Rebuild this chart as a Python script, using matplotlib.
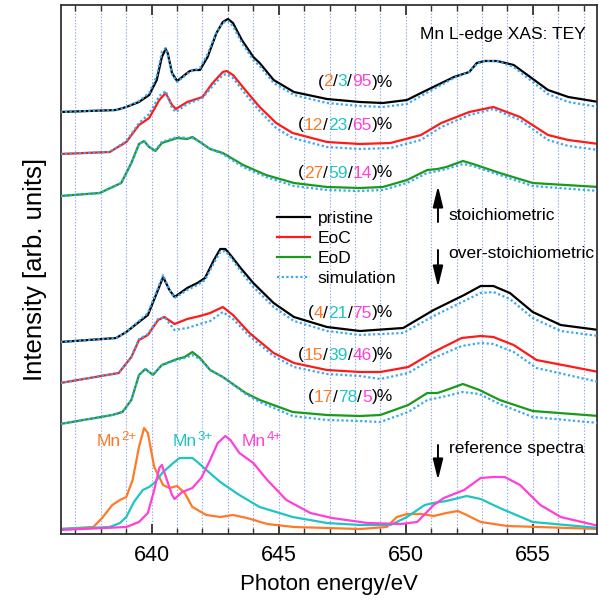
import matplotlib
matplotlib.use("Agg")
import matplotlib.pyplot as plt
import numpy as np
from matplotlib.lines import Line2D

plt.rcParams['font.family'] = ['Liberation Sans', 'DejaVu Sans']

# ---------------- data (arb. units, relative to each curve's own baseline) ----------------
# upper group (stoichiometric)
pr1_E = [636.4, 638.6, 639.0, 639.5, 639.9, 640.2, 640.4, 640.55, 640.63, 640.8, 641.0, 641.2, 641.5, 641.7, 641.9,
         642.2, 642.55, 642.8, 643.0, 643.2, 643.55, 644.0, 644.25, 644.8, 645.6, 646.9, 648.2, 649.1, 650.05, 650.6,
         651.25, 651.9, 652.5, 652.8, 653.1, 653.6, 654.25, 654.9, 655.6, 656.4, 657.6]
pr1_I = [0, 2, 5, 10, 17, 32, 55, 63, 59, 39, 31, 35, 41, 42, 42,
         55, 79, 90, 93, 89, 72, 55, 49, 32, 20, 13, 10, 9, 12, 19,
         27, 35, 40, 49, 51, 51, 47, 35, 22, 15, 10]
pr1_S = [0, 2, 5, 11, 19, 36, 60, 64, 57, 38, 30, 34, 40, 42, 44,
         58, 80, 89, 91, 86, 69, 52, 46, 29, 17, 9, 6, 5, 8, 16,
         25, 34, 40, 48, 51, 51, 45, 32, 18, 10, 5]

eoc1_E = [636.4, 638.35, 639.0, 639.5, 639.9, 640.3, 640.55, 640.8, 640.95, 641.4, 642.0, 642.4, 642.8, 642.95, 643.2,
          643.75, 644.25, 644.9, 645.55, 646.9, 648.2, 649.4, 650.6, 651.4, 652.5, 653.45, 654.5, 655.6, 656.4, 657.6]
eoc1_I = [0, 2, 12, 29, 36, 54, 61, 49, 45, 52, 57, 71, 82, 83, 79,
          62, 47, 31, 21, 12, 10, 11, 19, 31, 42, 47, 37, 19, 14, 10]
eoc1_S = [0, 2, 13, 31, 40, 58, 63, 46, 42, 50, 56, 68, 79, 80, 76,
          58, 43, 26, 16, 7, 5, 6, 14, 27, 39, 45, 34, 14, 8, 4]

eod1_E = [636.4, 637.95, 638.8, 639.2, 639.5, 639.7, 639.9, 640.15, 640.4, 641.0, 641.4, 641.6, 641.9, 642.3, 642.8,
          643.6, 644.5, 645.6, 646.9, 648.2, 649.1, 650.05, 650.85, 651.25, 651.6, 652.25, 652.65, 653.7, 655.0, 657.6]
eod1_I = [0, 3, 13, 33, 52, 55, 49, 45, 53, 58, 57, 59, 54, 47, 43,
          31, 21, 13, 9, 8, 9, 16, 26, 27, 29, 35, 32, 23, 13, 9]
eod1_S = [0, 3, 13, 33, 52, 55, 49, 46, 54, 59, 58, 58, 54, 47, 42,
          29, 19, 10, 6, 5, 6, 13, 23, 25, 27, 32, 30, 21, 10, 5]

# lower group (over-stoichiometric)
pr2_E = [636.4, 638.6, 639.0, 639.5, 639.85, 640.2, 640.45, 640.7, 640.9, 641.4, 641.8, 642.1, 642.45, 642.7, 642.9,
         643.1, 643.5, 644.0, 644.8, 645.6, 646.9, 648.2, 649.9, 651.1, 652.3, 652.95, 653.45, 654.1, 655.0, 656.1, 657.6]
pr2_I = [0, 4, 10, 20, 27, 49, 65, 52, 45, 54, 59, 64, 82, 93, 93,
         87, 74, 59, 39, 25, 15, 11, 14, 32, 47, 56, 56, 49, 30, 17, 12]
pr2_S = [0, 4, 10, 21, 29, 51, 67, 52, 44, 52, 57, 62, 79, 90, 91,
         85, 71, 55, 35, 21, 11, 7, 9, 26, 41, 49, 50, 43, 24, 11, 6]

eoc2_E = [636.4, 638.7, 639.2, 639.5, 639.85, 640.25, 640.5, 640.9, 641.4, 641.9, 642.3, 642.8, 643.2, 643.85, 644.8,
          645.6, 646.9, 648.2, 649.0, 650.1, 651.1, 652.2, 652.95, 653.45, 654.25, 655.15, 657.6]
eoc2_I = [0, 10, 26, 43, 48, 63, 66, 59, 64, 67, 70, 76, 68, 50, 30,
          20, 13, 11, 11, 16, 31, 45, 47, 46, 38, 23, 11]
eoc2_S = [0, 10, 26, 44, 49, 64, 66, 53, 55, 59, 62, 71, 64, 47, 27,
          16, 9, 7, 4, 10, 25, 37, 40, 39, 31, 15, 1]

eod2_E = [636.4, 638.45, 638.85, 639.2, 639.5, 639.75, 640.05, 640.4, 641.0, 641.3, 641.6, 641.9, 642.3, 642.8, 643.7,
          644.25, 645.55, 646.9, 648.2, 649.0, 650.1, 650.85, 651.25, 651.6, 652.25, 652.9, 653.7, 655.0, 657.6]
eod2_I = [0, 9, 12, 24, 49, 55, 49, 59, 65, 67, 72, 66, 54, 47, 31,
          24, 12, 9, 8, 9, 19, 31, 31, 34, 40, 34, 24, 13, 8]
eod2_S = [0, 9, 12, 24, 49, 55, 49, 59, 64, 66, 69, 65, 54, 47, 30,
          22, 8, 4, 3, 2, 12, 24, 26, 28, 32, 30, 20, 7, 1]

# reference spectra
mn2_E = [636.4, 637.7, 638.05, 638.45, 638.75, 639.0, 639.25, 639.5, 639.7, 639.85, 640.1, 640.45, 640.7, 641.0, 641.3,
         641.6, 642.15, 642.7, 643.2, 643.75, 644.55, 645.6, 648.2, 649.25, 649.65, 650.05, 650.6, 651.1, 651.6, 652.05,
         652.4, 652.95, 654.0, 657.6]
mn2_I = [1, 3, 12, 25, 30, 33, 50, 83, 102, 97, 63, 45, 42, 44, 37,
         23, 15, 13, 15, 12, 6, 3, 1, 3, 13, 16, 16, 14, 17, 19,
         15, 8, 4, 1]
mn3_E = [636.4, 638.35, 638.75, 639.0, 639.3, 639.65, 639.9, 640.1, 640.45, 640.85, 641.1, 641.6, 641.8, 642.15, 642.7,
         643.45, 644.25, 645.55, 646.9, 648.2, 649.4, 650.05, 650.75, 651.1, 651.6, 652.4, 652.95, 653.7, 655.0, 657.6]
mn3_I = [1, 3, 7, 13, 28, 40, 43, 47, 58, 67, 72, 72, 68, 60, 48,
         35, 23, 13, 7, 5, 5, 13, 25, 27, 29, 34, 31, 22, 8, 2]
mn4_E = [636.4, 639.0, 639.5, 639.85, 640.1, 640.3, 640.4, 640.6, 640.8, 640.9, 641.2, 641.6, 641.95, 642.3, 642.6,
         642.9, 643.1, 643.45, 644.0, 644.55, 645.3, 646.25, 647.1, 648.5, 649.8, 650.45, 651.1, 651.5, 652.3, 652.95,
         653.45, 653.9, 654.5, 655.3, 656.1, 657.6]
mn4_I = [0, 3, 8, 17, 40, 62, 65, 50, 35, 31, 38, 42, 52, 70, 87,
         94, 90, 77, 67, 50, 30, 17, 12, 7, 6, 8, 25, 32, 40, 52,
         53, 53, 45, 25, 13, 4]

offsets = {'pr1': 422, 'eoc1': 380, 'eod1': 338, 'pr2': 192, 'eoc2': 151, 'eod2': 110, 'ref': 4}

labels_upper = [("2", "3", "95"), ("12", "23", "65"), ("27", "59", "14")]
labels_lower = [("4", "21", "75"), ("15", "39", "46"), ("17", "78", "5")]
ref_names = [("Mn", "2+"), ("Mn", "3+"), ("Mn", "4+")]

# ---------------- style ----------------
C_PR, C_EOC, C_EOD, C_SIM = '#000000', '#ff1a1a', '#1a9a1a', '#3aa8f0'
C_MN2, C_MN3, C_MN4 = '#ff7a28', '#1fc4c4', '#ff40d8'
LW = 1.6
SIM_LS = (0, (1.0, 1.1))

fig = plt.figure(figsize=(5.99, 6.0), dpi=100)
ax = fig.add_axes([61 / 599, 1 - 534 / 600, 536 / 599, 529 / 600])
ax.set_xlim(636.43, 657.53)
ax.set_ylim(0, 529)

for e in range(637, 658):
    ax.axvline(e, color='#90a8f0', lw=0.8, ls=(0, (1.2, 1.6)), zorder=0)

groups = [(pr1_E, pr1_I, pr1_S, 'pr1', C_PR), (eoc1_E, eoc1_I, eoc1_S, 'eoc1', C_EOC),
          (eod1_E, eod1_I, eod1_S, 'eod1', C_EOD), (pr2_E, pr2_I, pr2_S, 'pr2', C_PR),
          (eoc2_E, eoc2_I, eoc2_S, 'eoc2', C_EOC), (eod2_E, eod2_I, eod2_S, 'eod2', C_EOD)]
for E, I, S, key, c in groups:
    off = offsets[key]
    ax.plot(E, np.array(I) + off, color=c, lw=LW, zorder=2, solid_joinstyle='round')
    ax.plot(E, np.array(S) + off, color=C_SIM, lw=LW, ls=SIM_LS, zorder=3)

for E, I, c in [(mn2_E, mn2_I, C_MN2), (mn3_E, mn3_I, C_MN3), (mn4_E, mn4_I, C_MN4)]:
    ax.plot(E, np.array(I) + offsets['ref'], color=c, lw=LW, zorder=2, solid_joinstyle='round')

# legend
handles = [Line2D([], [], color=C_PR, lw=LW), Line2D([], [], color=C_EOC, lw=LW),
           Line2D([], [], color=C_EOD, lw=LW), Line2D([], [], color=C_SIM, lw=LW, ls=SIM_LS)]
ax.legend(handles, ['pristine', 'EoC', 'EoD', 'simulation'], loc='upper left',
          bbox_to_anchor=(0.403, 0.611), frameon=False, fontsize=12.5, borderpad=0,
          borderaxespad=0, handlelength=1.9, handletextpad=0.45, labelspacing=0.28)

# composition labels (right aligned, multicolour)
FS = 12.5
def comp_label(x, y, parts):
    a, b, c = parts
    pieces = [("(", 'k'), (a, C_MN2), ("/", 'k'), (b, C_MN3), ("/", 'k'), (c, C_MN4), (")%", 'k')]
    prev = None
    for txt, col in reversed(pieces):
        if prev is None:
            prev = ax.text(x, y, txt, color=col, fontsize=FS, ha='right', va='center')
        else:
            prev = ax.annotate(txt, xy=(0, 0), xycoords=prev, color=col, fontsize=FS,
                               ha='right', va='bottom')

for lab, y in zip(labels_upper, [452, 409, 361]):
    comp_label(649.5, y, lab)
for lab, y in zip(labels_lower, [221, 179, 137]):
    comp_label(649.5, y, lab)

arrow_kw = dict(arrowstyle='-|>,head_length=0.9,head_width=0.22', color='k', lw=1.4, mutation_scale=14,
                shrinkA=0, shrinkB=0)
ax.annotate('', xy=(651.27, 348), xytext=(651.27, 312), arrowprops=arrow_kw)
ax.annotate('', xy=(651.27, 247), xytext=(651.27, 284), arrowprops=arrow_kw)
ax.annotate('', xy=(651.27, 54), xytext=(651.27, 89), arrowprops=arrow_kw)
ax.text(651.67, 319, 'stoichiometric', fontsize=FS, va='center', ha='left')
ax.text(651.67, 280, 'over-stoichiometric', fontsize=FS, va='center', ha='left')
ax.text(651.7, 85, 'reference spectra', fontsize=FS, va='center', ha='left')
ax.text(657.07, 500, 'Mn L-edge XAS: TEY', fontsize=FS, va='center', ha='right')

for (base, sup), x, col in zip(ref_names, [637.85, 640.84, 643.55], [C_MN2, C_MN3, C_MN4]):
    t = ax.text(x, 93, base, color=col, fontsize=FS, va='center', ha='left')
    ax.annotate(sup, xy=(1.0, 0.8), xycoords=t, xytext=(0.4, 0), textcoords='offset points',
                color=col, fontsize=9.5, va='center', ha='left')

# axes styling
ax.set_xticks([640, 645, 650, 655])
ax.set_xticks(range(637, 658), minor=True)
ax.tick_params(axis='x', which='both', direction='in', top=True, bottom=True, labelsize=15.5, pad=8,
               color='#333333')
ax.tick_params(axis='x', which='major', length=7, width=1.3)
ax.tick_params(axis='x', which='minor', length=4, width=1.0)
ax.set_yticks([])
for s in ax.spines.values():
    s.set_color('#333333')
    s.set_linewidth(1.3)
ax.set_xlabel('Photon energy/eV', fontsize=16, labelpad=6)
ax.set_ylabel('Intensity [arb. units]', fontsize=18.5, labelpad=10)

fig.savefig('out.png', dpi=100)
